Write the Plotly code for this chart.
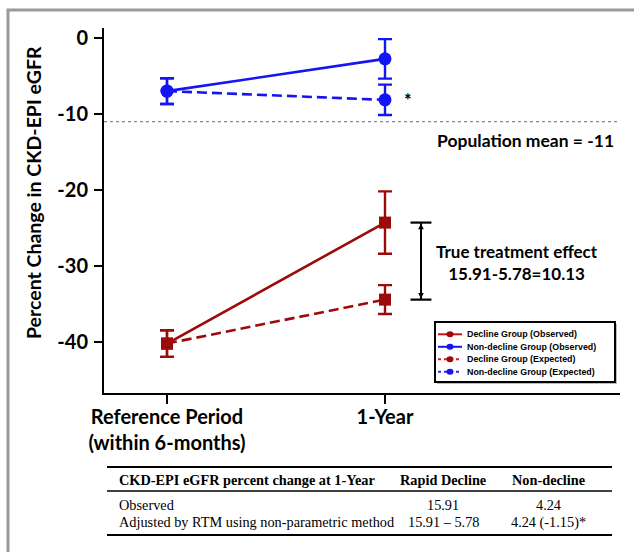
import plotly.graph_objects as go

# ---- data ----
timepoints = ["Reference Period<br>(within 6-months)", "1-Year"]

# mean percent change at the reference period
decline_ref = -40.2
nondecline_ref = -7.0

# change from reference to 1-year
decline_change_observed = 15.91
decline_change_expected = 5.78      # regression-to-the-mean component
nondecline_change_observed = 4.24
nondecline_change_expected = -1.15

decline_obs = [decline_ref, decline_ref + decline_change_observed]
decline_exp = [decline_ref, decline_ref + decline_change_expected]
nondecline_obs = [nondecline_ref, nondecline_ref + nondecline_change_observed]
nondecline_exp = [nondecline_ref, nondecline_ref + nondecline_change_expected]

decline_obs_err = [1.75, 4.1]
decline_exp_err = [1.75, 1.9]
nondecline_obs_err = [1.7, 2.6]
nondecline_exp_err = [1.7, 2.0]

population_mean = -11
y_ticks = [0, -10, -20, -30, -40]
y_tick_labels = ["0", "-10", "-20", "-30", "-40"]

series_names = ["Decline Group (Observed)", "Non-decline Group (Observed)",
                "Decline Group (Expected)", "Non-decline Group (Expected)"]

table_header = ["CKD-EPI eGFR percent change at 1-Year", "Rapid Decline", "Non-decline"]
table_rows = [
    ["Observed", "15.91", "4.24"],
    ["Adjusted by RTM using non-parametric method", "15.91 \u2013 5.78", "4.24 (-1.15)*"],
]

# ---- styling ----
W, H = 634, 552
L, R, T, B = 104, 14, 28, 159
RED = "#9c0a0a"
BLUE = "#1414f5"
SANS = "Lato"


def px(x):
    return (x - L) / (W - L - R)


def py(y):
    return (H - B - y) / (H - T - B)


fig = go.Figure()


def add_series(name, y, err, color, symbol, dash):
    fig.add_trace(go.Scatter(
        x=timepoints, y=y, name=name, mode="lines+markers",
        line=dict(color=color, width=2.6, dash=dash),
        marker=dict(color=color, size=13 if symbol == "circle" else 12, symbol=symbol),
        error_y=dict(type="data", array=err, visible=True, color=color,
                     thickness=2.4, width=7),
        showlegend=False,
    ))


add_series(series_names[2], decline_exp, decline_exp_err, RED, "square", "10px,5px")
add_series(series_names[0], decline_obs, decline_obs_err, RED, "square", "solid")
add_series(series_names[3], nondecline_exp, nondecline_exp_err, BLUE, "circle", "10px,5px")
add_series(series_names[1], nondecline_obs, nondecline_obs_err, BLUE, "circle", "solid")

shapes = []
annotations = []

# outer frame
shapes.append(dict(type="rect", xref="paper", yref="paper",
                   x0=px(8), x1=px(650), y0=py(10), y1=py(570),
                   line=dict(color="#9a9a9a", width=3), layer="below"))

# population mean reference line
shapes.append(dict(type="line", xref="paper", yref="y", x0=0, x1=1,
                   y0=population_mean, y1=population_mean,
                   line=dict(color="#8c8c7a", width=1.3, dash="dot")))
annotations.append(dict(xref="paper", yref="paper", x=px(616), y=py(140),
                        xanchor="right", yanchor="middle", showarrow=False,
                        text=f"Population mean = {population_mean}",
                        font=dict(family=SANS, size=17.5, color="black", weight="bold")))

# asterisk beside the expected non-decline value
annotations.append(dict(xref="paper", yref="y", x=px(402), y=nondecline_exp[1],
                        xanchor="left", yanchor="middle", showarrow=False, text="*",
                        font=dict(family=SANS, size=18, color="black", weight="bold")))

# true treatment effect bracket
bx = 1.165
cap = 0.048
y_top, y_bot = decline_obs[1], decline_exp[1]
shapes.append(dict(type="line", xref="x", yref="y", x0=bx, x1=bx, y0=y_top, y1=y_bot,
                   line=dict(color="black", width=2)))
for yy in (y_top, y_bot):
    shapes.append(dict(type="line", xref="x", yref="y", x0=bx - cap, x1=bx + cap,
                       y0=yy, y1=yy, line=dict(color="black", width=2.2)))
for y_from, y_to in ((y_bot, y_top), (y_top, y_bot)):
    annotations.append(dict(xref="x", yref="y", x=bx, y=y_to, ax=bx, ay=y_from,
                            axref="x", ayref="y", text="", showarrow=True,
                            arrowhead=2, arrowsize=0.7, arrowwidth=1.6,
                            arrowcolor="black", standoff=1))
effect = decline_change_observed - decline_change_expected
annotations.append(dict(xref="paper", yref="paper", x=px(517), y=py(262),
                        xanchor="center", yanchor="middle", showarrow=False,
                        text=f"True treatment effect<br>{decline_change_observed:.2f}-"
                             f"{decline_change_expected:.2f}={effect:.2f}",
                        font=dict(family=SANS, size=17, color="black", weight="bold")))

# y-axis title
annotations.append(dict(xref="paper", yref="paper", x=px(33), y=py(193),
                        xanchor="center", yanchor="middle", showarrow=False,
                        textangle=-90, text="Percent Change in CKD-EPI eGFR",
                        font=dict(family=SANS, size=19.5, color="black", weight="bold")))

# legend box
lg_x0, lg_x1, lg_y0, lg_y1 = 435, 615, 322, 382
shapes.append(dict(type="rect", xref="paper", yref="paper",
                   x0=px(lg_x0 + 2), x1=px(lg_x1 + 2), y0=py(lg_y0 + 2), y1=py(lg_y1 + 2),
                   line=dict(width=0), fillcolor="#bbbbbb"))
shapes.append(dict(type="rect", xref="paper", yref="paper",
                   x0=px(lg_x0), x1=px(lg_x1), y0=py(lg_y0), y1=py(lg_y1),
                   line=dict(color="black", width=2), fillcolor="white"))
legend_items = [
    (series_names[0], "#c81414", RED, "solid"),
    (series_names[1], BLUE, BLUE, "solid"),
    (series_names[2], "#e01a1a", RED, "dot"),
    (series_names[3], "#2a2aff", BLUE, "dot"),
]
for i, (name, lcol, mcol, dash) in enumerate(legend_items):
    yy = 334.3 + i * 12.5
    shapes.append(dict(type="line", xref="paper", yref="paper",
                       x0=px(438), x1=px(462), y0=py(yy), y1=py(yy),
                       line=dict(color=lcol, width=2, dash=dash)))
    shapes.append(dict(type="circle", xref="paper", yref="paper",
                       x0=px(446.5), x1=px(453.5), y0=py(yy - 3), y1=py(yy + 3),
                       line=dict(width=0), fillcolor=mcol))
    annotations.append(dict(xref="paper", yref="paper", x=px(465), y=py(yy),
                            xanchor="left", yanchor="middle", showarrow=False, text=name,
                            font=dict(family="Liberation Sans", size=8.9,
                                      color="black", weight="bold")))

# summary table below the chart
TBL = "Liberation Serif"
TBL_SIZE = 14.3
tx0, tx1 = 107, 612
col_x = [117, 443, 548]
for yy, w in ((467, 2), (491, 1.5), (535, 2)):
    shapes.append(dict(type="line", xref="paper", yref="paper",
                       x0=px(tx0), x1=px(tx1), y0=py(yy), y1=py(yy),
                       line=dict(color="black", width=w)))
row_y = [480, 505, 522]
for j, txt in enumerate(table_header):
    annotations.append(dict(xref="paper", yref="paper", x=px(col_x[j]), y=py(row_y[0]),
                            xanchor="left" if j == 0 else "center", yanchor="middle",
                            showarrow=False, text=txt,
                            font=dict(family=TBL, size=TBL_SIZE, color="black", weight="bold")))
for r, row in enumerate(table_rows):
    for j, txt in enumerate(row):
        annotations.append(dict(xref="paper", yref="paper", x=px(col_x[j]), y=py(row_y[r + 1]),
                                xanchor="left" if j == 0 else "center", yanchor="middle",
                                showarrow=False, text=txt,
                                font=dict(family=TBL, size=TBL_SIZE, color="black")))

fig.update_layout(
    width=W, height=H,
    margin=dict(l=L, r=R, t=T, b=B, autoexpand=False),
    paper_bgcolor="white", plot_bgcolor="white",
    showlegend=False,
    shapes=shapes, annotations=annotations,
    xaxis=dict(type="category", range=[-0.289, 2.078], showgrid=False, zeroline=False,
               showline=True, linecolor="black", linewidth=2,
               ticks="outside", ticklen=9, tickwidth=2, tickcolor="black",
               ticklabelstandoff=-4,
               tickfont=dict(family=SANS, size=20, color="black", weight="bold")),
    yaxis=dict(range=[-46.7, 1.3], tickvals=y_ticks, ticktext=y_tick_labels,
               showgrid=False, zeroline=False,
               showline=True, linecolor="black", linewidth=2,
               ticks="outside", ticklen=8, tickwidth=2, tickcolor="black",
               ticklabelstandoff=2,
               tickfont=dict(family=SANS, size=20, color="black", weight="bold")),
)

fig.write_html("out.html")
